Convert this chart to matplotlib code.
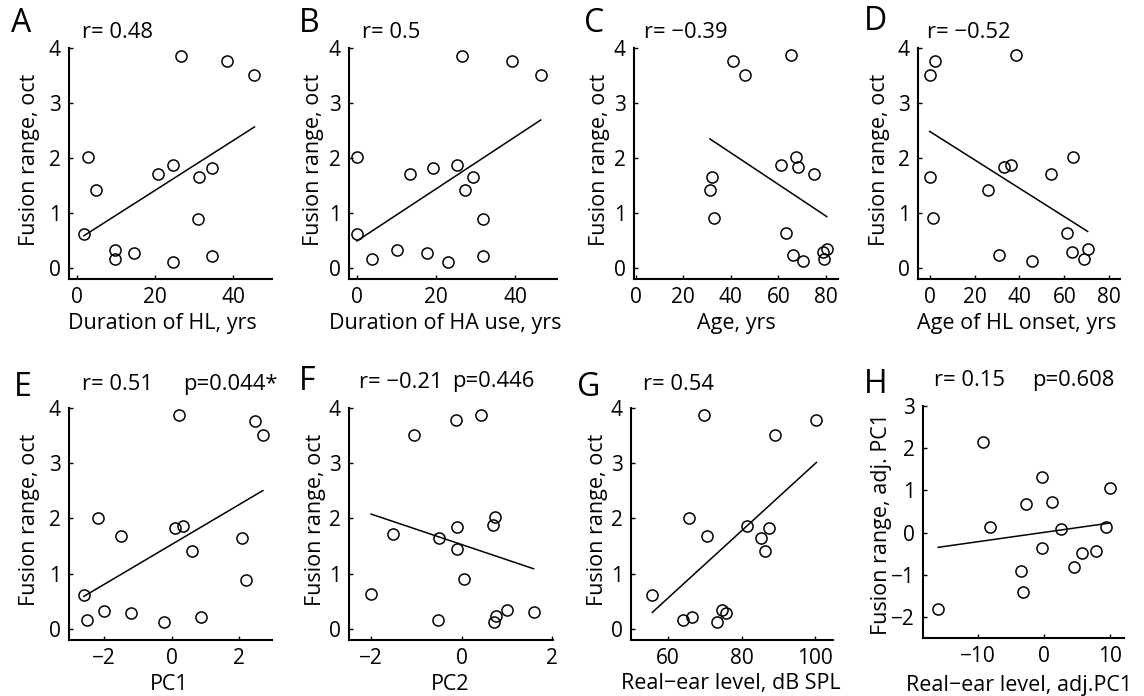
import numpy as np
import matplotlib
matplotlib.use("Agg")
import matplotlib.pyplot as plt

plt.rcParams['font.family'] = ['Open Sans', 'DejaVu Sans']

# ---- data: fusion range (oct) against each listener variable ----
hl_duration = [1.8, 2.8, 4.9, 9.8, 9.8, 14.7, 20.9, 24.6, 24.6, 26.6, 31.4, 31.1, 34.6, 34.6, 38.6, 45.5]
fusion_a = [0.62, 2.01, 1.41, 0.33, 0.16, 0.28, 1.70, 1.87, 0.11, 3.86, 1.65, 0.89, 1.82, 0.22, 3.76, 3.51]

ha_duration = [0.0, 0.0, 3.9, 10.1, 13.5, 17.6, 19.2, 23.1, 25.2, 26.4, 27.2, 29.2, 31.8, 31.8, 39.2, 46.4]
fusion_b = [2.01, 0.62, 0.16, 0.33, 1.70, 0.28, 1.82, 0.11, 1.87, 3.86, 1.41, 1.65, 0.89, 0.22, 3.76, 3.51]

age = [31.2, 31.9, 32.8, 40.7, 45.9, 60.9, 63.2, 65.1, 66.0, 67.2, 68.4, 70.5, 75.1, 78.5, 79.3, 80.3]
fusion_c = [1.42, 1.65, 0.91, 3.77, 3.51, 1.88, 0.64, 3.88, 0.23, 2.02, 1.83, 0.13, 1.70, 0.29, 0.17, 0.35]

hl_onset = [0.0, 2.2, 0.0, 1.5, 26.0, 31.0, 33.0, 36.2, 38.3, 45.4, 54.0, 61.0, 64.0, 63.2, 68.9, 70.4]
fusion_d = [3.51, 3.76, 1.65, 0.91, 1.42, 0.23, 1.83, 1.88, 3.87, 0.13, 1.70, 0.64, 2.02, 0.29, 0.17, 0.35]

pc1 = [-2.59, -2.49, -2.16, -1.99, -1.50, -1.19, -0.22, 0.11, 0.34, 0.22, 0.62, 0.88, 2.09, 2.20, 2.47, 2.70]
fusion_e = [0.62, 0.17, 2.01, 0.33, 1.69, 0.29, 0.12, 1.83, 1.87, 3.87, 1.42, 0.22, 1.65, 0.89, 3.77, 3.51]

pc2 = [-2.00, -1.52, -1.06, -0.53, -0.49, -0.13, -0.10, -0.10, 0.06, 0.43, 0.69, 0.73, 0.72, 0.75, 1.00, 1.59]
fusion_f = [0.64, 1.71, 3.52, 0.17, 1.65, 3.78, 1.84, 1.44, 0.90, 3.88, 1.88, 2.02, 0.12, 0.24, 0.35, 0.30]

rel_level = [55.8, 64.0, 66.6, 65.8, 69.7, 70.7, 73.3, 74.7, 75.7, 81.6, 85.2, 86.3, 87.4, 89.1, 100.3]
fusion_g = [0.62, 0.16, 0.22, 2.01, 3.88, 1.69, 0.12, 0.35, 0.28, 1.87, 1.64, 1.41, 1.82, 3.52, 3.78]

rel_adj = [-16.0, -9.2, -8.1, -3.4, -3.1, -2.6, -0.3, -0.2, 1.3, 2.6, 4.6, 5.9, 7.9, 9.4, 10.1]
fusion_adj = [-1.81, 2.14, 0.13, -0.90, -1.42, 0.68, 1.31, -0.37, 0.72, 0.09, -0.82, -0.48, -0.43, 0.13, 1.05]

r_text = ["r= 0.48", "r= 0.5", "r= \u22120.39", "r= \u22120.52",
          "r= 0.51", "r= \u22120.21", "r= 0.54", "r= 0.15"]
p_text = [None, None, None, None, "p=0.044*", "p=0.446", None, "p=0.608"]
letters = list("ABCDEFGH")
x_labels = ["Duration of HL, yrs", "Duration of HA use, yrs", "Age, yrs",
            "Age of HL onset, yrs", "PC1", "PC2", "Real\u2212ear level, dB SPL",
            "Real\u2212ear level, adj.PC1"]
y_labels = ["Fusion range, oct"] * 7 + ["Fusion range, adj. PC1"]

xs = [hl_duration, ha_duration, age, hl_onset, pc1, pc2, rel_level, rel_adj]
ys = [fusion_a, fusion_b, fusion_c, fusion_d, fusion_e, fusion_f, fusion_g, fusion_adj]

x_ticks = [[0, 20, 40], [0, 20, 40], [0, 20, 40, 60, 80], [0, 20, 40, 60, 80],
           [-2, 0, 2], [-2, 0, 2], [60, 80, 100], [-10, 0, 10]]
y_ticks = [[0, 1, 2, 3, 4]] * 7 + [[-2, -1, 0, 1, 2, 3]]

# ---- layout (pixel geometry of the 1144 x 696 canvas) ----
W, H = 1144, 696
x_lims = [(-2, 50), (-2, 50.5), (-0.7, 85), (-5.2, 84.8),
          (-3.03, 2.97), (-2.49, 2.02), (50, 104.8), (-18.3, 12.2)]
y_lims = [(-0.2, 4)] * 7 + [(-2.5, 3)]
boxes = [(69, 48, 272, 279), (349, 48, 557, 279), (634, 48, 838, 279), (918, 48, 1120, 279),
         (69, 408, 272, 640), (349, 408, 553, 640), (631, 408, 833, 640), (923, 406, 1124, 638)]
letter_pos = [(11, 23), (299, 23), (584, 23), (864, 22), (14, 387), (299, 381), (577, 387), (864, 385)]
r_pos = [(82, 32), (362, 32), (644, 32), (927, 32), (82, 385), (359, 382), (643, 384), (934, 380)]
p_pos = [None, None, None, None, (183, 385), (452, 382), None, (1032, 380)]
ylab_pos = [(30, 160), (313, 160), (600, 160), (880, 160), (30, 520), (315, 520), (597, 520), (881, 524)]
xlab_pos = [(162, 324), (445, 324), (736, 324), (1017, 324), (169, 684), (450, 684), (731, 684), (1019, 686)]

TICK_FS = 15
LABEL_FS = 15.5
NOTE_FS = 15.8
LETTER_FS = 23

def fx(px):
    return px / W

def fy(py):
    return 1 - py / H

fig = plt.figure(figsize=(W / 100, H / 100), dpi=100)

for i in range(8):
    l, t, r, b = boxes[i]
    ax = fig.add_axes([fx(l), fy(b), (r - l) / W, (b - t) / H])
    x = np.asarray(xs[i], float)
    y = np.asarray(ys[i], float)
    ax.plot(x, y, 'o', mfc='none', mec='black', ms=8, mew=1.1, clip_on=False)
    k, c = np.polyfit(x, y, 1)
    xl = np.array([x.min(), x.max()])
    ax.plot(xl, k * xl + c, '-', color='black', lw=1.1)

    ax.set_xlim(*x_lims[i])
    ax.set_ylim(*y_lims[i])
    ax.set_xticks(x_ticks[i])
    ax.set_yticks(y_ticks[i])
    for s in ('top', 'right'):
        ax.spines[s].set_visible(False)
    for s in ('left', 'bottom'):
        ax.spines[s].set_linewidth(1.5)
    ax.tick_params(direction='in', length=3, width=1, labelsize=TICK_FS)
    ax.tick_params(axis='x', pad=6)
    ax.tick_params(axis='y', pad=6)
    ax.patch.set_alpha(0)

    ax.set_xlabel(x_labels[i], fontsize=LABEL_FS, va='center')
    ax.xaxis.set_label_coords(fx(xlab_pos[i][0]), fy(xlab_pos[i][1]), transform=fig.transFigure)
    ax.set_ylabel(y_labels[i], fontsize=LABEL_FS, va='center')
    ax.yaxis.set_label_coords(fx(ylab_pos[i][0]), fy(ylab_pos[i][1]), transform=fig.transFigure)

    fig.text(fx(letter_pos[i][0]), fy(letter_pos[i][1]), letters[i], fontsize=LETTER_FS,
             ha='left', va='center')
    fig.text(fx(r_pos[i][0]), fy(r_pos[i][1]), r_text[i], fontsize=NOTE_FS, ha='left', va='center')
    if p_pos[i] is not None:
        fig.text(fx(p_pos[i][0]), fy(p_pos[i][1]), p_text[i], fontsize=NOTE_FS, ha='left', va='center')

fig.savefig("out.png", dpi=100, facecolor='white')
